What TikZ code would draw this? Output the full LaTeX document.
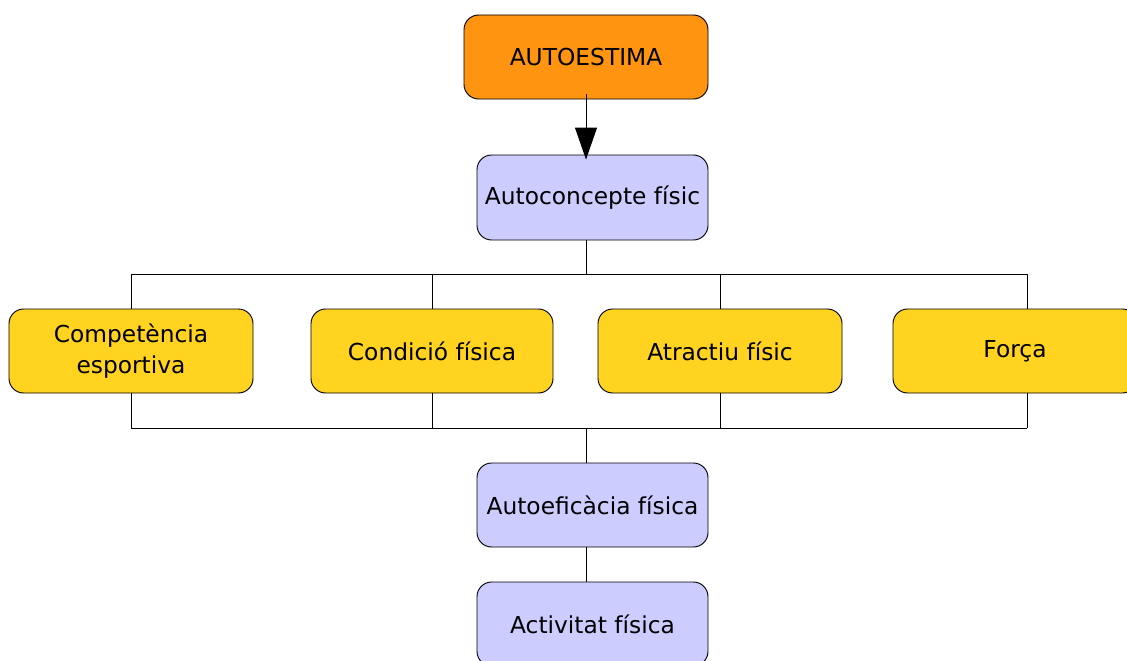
\documentclass[tikz,border=0pt]{standalone}
\usepackage{fontspec}
\setmainfont{DejaVu Sans}
\usetikzlibrary{arrows.meta}
\definecolor{orng}{HTML}{FF9411}
\definecolor{lav}{HTML}{CCCCFF}
\definecolor{gold}{HTML}{FFD320}
\tikzset{
  box/.style={draw=black, line width=0.7pt, rounded corners=11pt, inner sep=0pt,
    minimum height=63pt, align=center, font=\fontsize{17.5}{23.25}\selectfont},
  wide/.style={minimum width=183pt},
  narrow/.style={minimum width=173.25pt},
  conn/.style={draw=black, line width=0.7pt},
}
\begin{document}
\begin{tikzpicture}[x=0.75pt,y=-0.75pt]
\useasboundingbox (0,0) rectangle (1127,660);
\clip (0,0) rectangle (1127,660);
\node[box,wide,fill=orng] (top) at (586,57) {AUTOESTIMA};
\node[box,narrow,fill=lav,minimum height=63.75pt] (ac) at (592.5,197.5) {Autoconcepte físic};
\node[box,wide,fill=gold] (comp) at (131,351) {Competència\\esportiva};
\node[box,minimum width=181.5pt,fill=gold] (cond) at (432,351) {Condició física};
\node[box,wide,fill=gold] (atr) at (720,351) {Atractiu físic};
\node[box,wide,fill=gold] (forca) at (1015,351) {Força\vphantom{p}};
\node[box,narrow,fill=lav] (aef) at (592.5,505) {Autoeficàcia física};
\node[box,narrow,fill=lav] (act) at (592.5,624) {Activitat física};
\coordinate (t1) at (586,274);
\coordinate (tl) at (131,274);
\coordinate (tr) at (1027,274);
\coordinate (b1) at (586,428);
\coordinate (bl) at (131,428);
\coordinate (br) at (1027,428);
\draw[conn,-{Triangle[length=24pt,width=16.5pt]}] ([yshift=4pt]top.south) -- ([yshift=-3.75pt]top.south |- ac.north);
\draw[conn] (ac.south -| t1) -- (t1);
\draw[conn] (tl) -- (tr);
\draw[conn] (tl) -- (comp.north);
\draw[conn] (cond.north |- t1) -- (cond.north);
\draw[conn] (atr.north |- t1) -- (atr.north);
\draw[conn] (tr) -- (forca.north -| tr);
\draw[conn] (comp.south) -- (bl);
\draw[conn] (bl) -- (br);
\draw[conn] (cond.south) -- (cond.south |- bl);
\draw[conn] (atr.south) -- (atr.south |- bl);
\draw[conn] (forca.south -| br) -- (br);
\draw[conn] (b1) -- (aef.north -| b1);
\draw[conn] (aef.south -| b1) -- (act.north -| b1);
\end{tikzpicture}
\end{document}
